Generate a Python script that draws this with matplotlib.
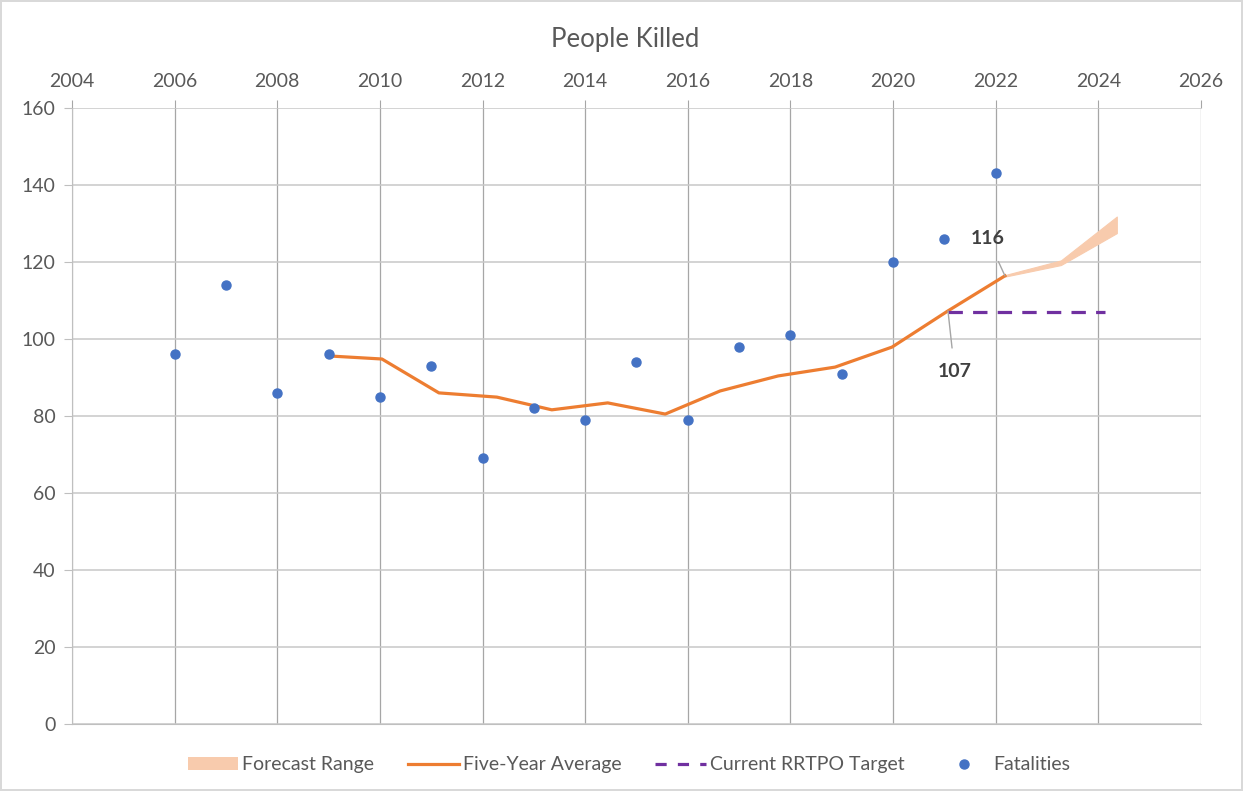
import matplotlib.pyplot as plt
from matplotlib.lines import Line2D
from matplotlib.patches import Patch

plt.rcParams['font.family'] = ['Lato', 'DejaVu Sans']

# Fatalities per year
years = [2006, 2007, 2008, 2009, 2010, 2011, 2012, 2013, 2014, 2015,
         2016, 2017, 2018, 2019, 2020, 2021, 2022]
fatalities = [96, 114, 86, 96, 85, 93, 69, 82, 79, 94,
              79, 98, 101, 91, 120, 126, 143]

# Five-year average (x positions as plotted in the source)
avg_x = [2009.0, 2010.04, 2011.15, 2012.28, 2013.35, 2014.44, 2015.56,
         2016.63, 2017.76, 2018.87, 2019.98, 2021.07, 2022.18]
avg_y = [95.6, 94.8, 86.0, 84.9, 81.6, 83.4, 80.5,
         86.5, 90.4, 92.7, 97.9, 107.3, 116.4]

# Forecast range
fc_x = [2022.18, 2023.27, 2024.36]
fc_low = [116.2, 119.2, 127.5]
fc_high = [116.6, 120.4, 131.8]

# Current RRTPO target
target_x = [2021.07, 2024.13]
target_y = [107, 107]

fig = plt.figure(figsize=(12.43, 7.91), dpi=100)
fig.patch.set_edgecolor('#d9d9d9')
fig.patch.set_linewidth(1.5)
ax = fig.add_axes([0.0579, 0.0847, 0.9083, 0.7788])

ax.fill_between(fc_x, fc_low, fc_high, color='#f8cbad', lw=0.8, edgecolor='#f8cbad', zorder=2)
ax.plot(avg_x, avg_y, color='#ed7d31', lw=2.3, zorder=3)
ax.plot(target_x, target_y, color='#7030a0', lw=2.3, dashes=(4.5, 3.2), zorder=3)
ax.plot(years, fatalities, 'o', color='#4472c4', ms=6.5, zorder=4)

# Data labels with leader lines
ax.annotate('116', xy=(avg_x[-1], avg_y[-1]), xytext=(2021.85, 126.0),
            ha='center', va='center', fontsize=14, fontweight='bold', color='#404040',
            arrowprops=dict(arrowstyle='-', color='#a6a6a6', lw=1, shrinkA=9, shrinkB=0))
ax.annotate('107', xy=(avg_x[-2], avg_y[-2]), xytext=(2021.2, 91.5),
            ha='center', va='center', fontsize=14, fontweight='bold', color='#404040',
            arrowprops=dict(arrowstyle='-', color='#a6a6a6', lw=1, shrinkA=9, shrinkB=0))

ax.set_xlim(2004, 2026)
ax.set_ylim(0, 160)
ax.set_xticks(range(2004, 2027, 2))
ax.set_yticks(range(0, 161, 20))
ax.xaxis.tick_top()
ax.tick_params(axis='x', colors='#a6a6a6', labelcolor='#595959', labelsize=14, length=6, pad=7)
ax.tick_params(axis='y', colors='#bfbfbf', labelcolor='#595959', labelsize=14, length=6, pad=6)

ax.grid(axis='y', color='#c8c8c8', lw=1.1, zorder=0)
ax.grid(axis='x', color='#a6a6a6', lw=0.9, zorder=0)
ax.set_axisbelow(True)
for side in ['top', 'right']:
    ax.spines[side].set_visible(False)
ax.spines['left'].set_color('#bfbfbf')
ax.spines['bottom'].set_color('#bfbfbf')

fig.text(0.503, 0.950, 'People Killed', ha='center', va='center', fontsize=18.5, color='#595959')

handles = [Patch(facecolor='#f8cbad', edgecolor='none'),
           Line2D([], [], color='#ed7d31', lw=2.3),
           Line2D([], [], color='#7030a0', lw=2.3, dashes=(3.5, 3.5)),
           Line2D([], [], marker='o', ls='none', color='#4472c4', ms=6.5)]
labels = ['Forecast Range', 'Five-Year Average', 'Current RRTPO Target', 'Fatalities']
fig.legend(handles, labels, loc='center', bbox_to_anchor=(0.506, 0.033), ncol=4,
           frameon=False, fontsize=14, labelcolor='#595959', handlelength=2.6,
           handletextpad=0.2, columnspacing=1.75)

fig.savefig('out.png', dpi=100)
